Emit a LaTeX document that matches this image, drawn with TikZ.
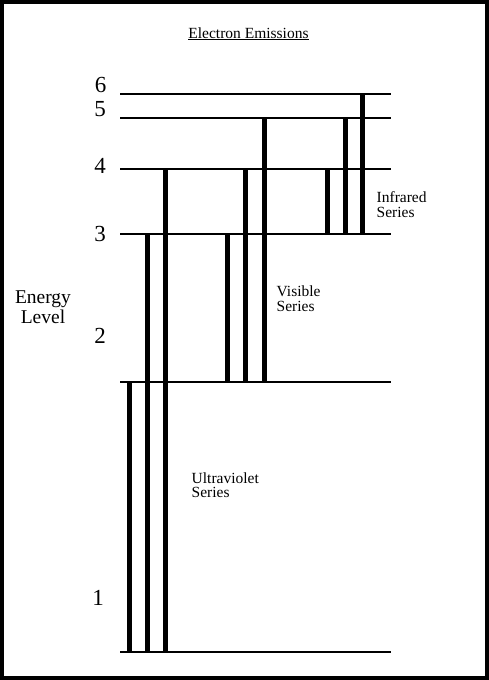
\documentclass[tikz,border=0pt]{standalone}
\usepackage{fontspec}
\setmainfont{Liberation Serif}
\usetikzlibrary{positioning}
\tikzset{level/.style={line width=1.2pt},bar/.style={line width=5pt},
 num/.style={font=\fontsize{23}{26}\selectfont},
 series/.style={font=\fontsize{15.5}{14.5}\selectfont,align=left,anchor=base west,inner sep=0pt}}

\begin{document}
\begin{tikzpicture}[x=1pt,y=-1pt]
\useasboundingbox (0,0) rectangle (489,680);
\draw[line width=4pt] (2,2) rectangle (487,678);
\node[font=\fontsize{15.5}{18}\selectfont,anchor=base] (title) at (248.5,38) {\underline{Electron Emissions}};
% energy levels
\foreach \i/\y in {1/652,2/382,3/234,4/169,5/118,6/94}{
 \coordinate (L\i) at (120,\y);
 \coordinate (R\i) at (391,\y);
 \draw[level] (L\i) -- (R\i);
}
\foreach \i/\x/\y in {1/98/598,2/100/336,3/100/233.5,4/100/165.5,5/100/109,6/100.5/84.5}
 \node[num] (n\i) at (\x,\y) {\i};
\node[font=\fontsize{19.5}{20}\selectfont,align=center,anchor=base,inner sep=0pt] (energy) at (43,323) {Energy\\Level};
% transitions
\foreach \x/\a/\b in {129.5/1/2,147.5/1/3,165.5/1/4,227.5/2/3,245.5/2/4,264/2/5,327.5/3/4,345.5/3/5,362.5/3/6}
 \draw[bar] (\x,0 |- L\a) -- (\x,0 |- L\b);
\node[series] (uv) at (191.5,497.5) {Ultraviolet\\Series};
\node[series] (vis) at (276.5,311) {Visible\\Series};
\node[series] (ir) at (376.5,217) {Infrared\\Series};
\end{tikzpicture}
\end{document}
